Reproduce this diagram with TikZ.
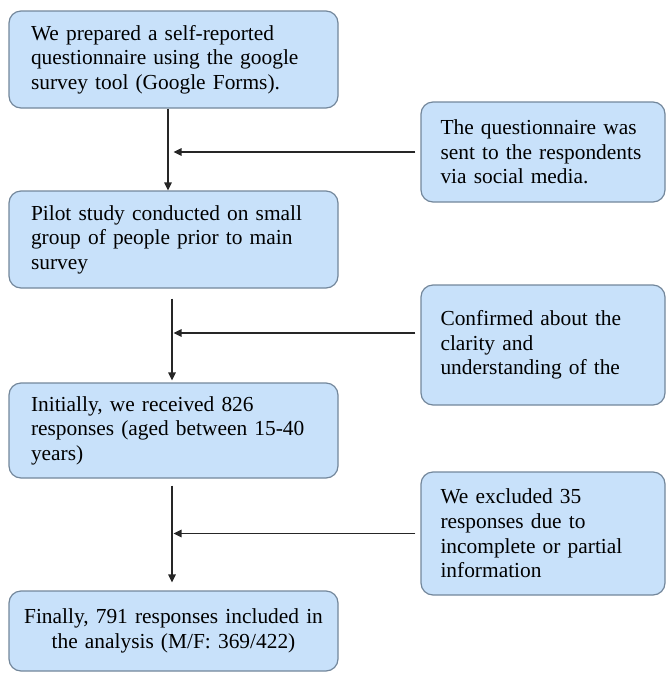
\documentclass[tikz,border=0pt]{standalone}
\usepackage{fontspec}
\setmainfont{Liberation Serif}
\newfontfamily\boxfont{Liberation Serif}
\usetikzlibrary{arrows.meta}
\definecolor{boxfill}{RGB}{200,225,250}
\definecolor{boxline}{RGB}{115,135,155}
\tikzset{
  stage/.style={draw=boxline, fill=boxfill, line width=1.2pt, rounded corners=12pt,
    text width=285pt, inner xsep=22pt, align=left, minimum height=97pt,
    font=\boxfont\fontsize{21.4}{24.6}\selectfont},
  note/.style={stage, text width=205pt, inner xsep=19.5pt, minimum height=100pt},
  flow/.style={-{Triangle[width=7.5pt,length=8pt]}, line width=1.2pt, black!85}
}
\begin{document}
\begin{tikzpicture}[x=1pt,y=-1pt]
    \useasboundingbox (0,0) rectangle (667,673);
    \node[stage] (Q0) at (173.5,59.5) {We prepared a self-reported\\
      questionnaire using the google\\ survey tool (Google Forms).};
    \node[stage] (P1) at (173.5,239.5) {Pilot study conducted on small\\
      group of people prior to main\\ survey};
    \node[stage, minimum height=95pt] (R2) at (173.5,430.5) {Initially, we received 826\\
      responses (aged between 15-40\\ years)};
    \node[stage, minimum height=80pt, inner xsep=10.5pt, text width=308pt, align=center]
      (F3) at (173.5,631) {Finally, 791 responses included in\\ the analysis (M/F: 369/422)};
    \node[note] (S0) at (543,152) {The questionnaire was\\
      sent to the respondents\\ via social media.};
    \node[note, minimum height=120pt] (C1) at (543,345) {Confirmed about the\\
      clarity and\\ understanding of the};
    \node[note, minimum height=123pt] (E2) at (543,533.5) {We excluded 35\\
      responses due to\\ incomplete or partial\\ information};

    \draw [flow] ([xshift=-5.5pt]Q0.south) -- ([xshift=-5.5pt]P1.north);
    \draw [flow, shorten <=10pt, shorten >=2pt] ([xshift=-1.5pt]P1.south) -- ([xshift=-1.5pt]R2.north);
    \draw [flow, shorten <=7pt, shorten >=8pt] ([xshift=-1.5pt]R2.south) -- ([xshift=-1.5pt]F3.north);
    \draw [flow, shorten <=5pt] (S0.west) -- (S0.west -| Q0.south);
    \draw [flow, shorten <=5pt] ([yshift=12pt]C1.west) -- ([yshift=12pt]C1.west -| P1.south);
    \draw [flow, shorten <=5pt] (E2.west) -- (E2.west -| R2.south);
  \end{tikzpicture}
\end{document}
